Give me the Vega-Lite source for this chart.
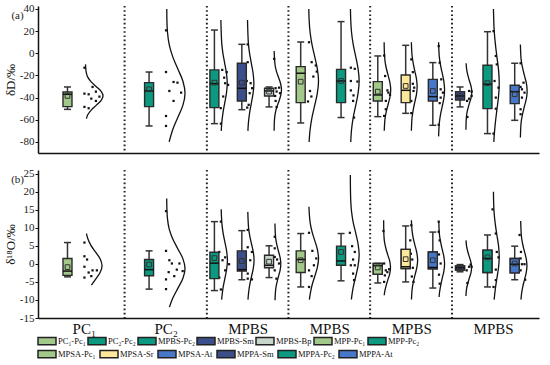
{
  "$schema": "https://vega.github.io/schema/vega-lite/v6.json",
  "padding": {"left": 4, "top": 2, "right": 4, "bottom": 1},
  "background": "white",
  "config": {
    "font": "Liberation Serif",
    "view": {"stroke": null},
    "axis": {"labelFont": "Liberation Serif", "titleFont": "Liberation Serif", "labelColor": "#222", "titleColor": "#111", "domainColor": "#111", "tickColor": "#111", "grid": false, "titleFontWeight": "normal", "labelFontSize": 11, "titleFontSize": 13, "domainWidth": 1.5, "labelOverlap": false}
  },
  "spacing": 13,
  "resolve": {"scale": {"color": "independent", "fill": "independent"}},
  "datasets": {
    "seps": [{"x": 83.3}, {"x": 167.3}, {"x": 250.6}, {"x": 334.0}, {"x": 417.6}],
    "tags": [{"p": "a", "t": "(a)", "x": -26, "y": 33.5}, {"p": "b", "t": "(b)", "x": -26, "y": 23.1}],
    "boxes": [
      {"p": "a", "g": "PC₁-Pc₁", "x": 25.0, "hi": -30.4, "q3": -35, "med": -37, "mn": -38.5, "q1": -48.1, "lo": -50.6},
      {"p": "a", "g": "PC₂-Pc₂", "x": 108.3, "hi": -16.9, "q3": -26.5, "med": -34, "mn": -32.5, "q1": -48.1, "lo": -65.6},
      {"p": "a", "g": "MPBS-Pc₂", "x": 175.0, "hi": 21, "q3": -15, "med": -27.4, "mn": -26.5, "q1": -49, "lo": -63.5},
      {"p": "a", "g": "MPBS-Sm", "x": 203.0, "hi": 8.1, "q3": -9, "med": -31.6, "mn": -26.5, "q1": -43, "lo": -50.9},
      {"p": "a", "g": "MPBS-Bp", "x": 230.8, "hi": -30.4, "q3": -31.6, "med": -34, "mn": -34.6, "q1": -38.5, "lo": -48.4},
      {"p": "a", "g": "MPP-Pc₁", "x": 263.1, "hi": 10.2, "q3": -12, "med": -18, "mn": -25.6, "q1": -44.5, "lo": -62.9},
      {"p": "a", "g": "MPP-Pc₂", "x": 304.3, "hi": 28.6, "q3": -14.5, "med": -25, "mn": -25, "q1": -44.5, "lo": -58},
      {"p": "a", "g": "MPSA-Pc₁", "x": 341.8, "hi": -2.4, "q3": -25.6, "med": -37.6, "mn": -34.6, "q1": -43, "lo": -57.2},
      {"p": "a", "g": "MPSA-Sr", "x": 370.3, "hi": 7.2, "q3": -19.6, "med": -33.4, "mn": -29.5, "q1": -44.5, "lo": -54.2},
      {"p": "a", "g": "MPSA-At", "x": 398.0, "hi": -8.4, "q3": -23.5, "med": -39.1, "mn": -34, "q1": -43, "lo": -65},
      {"p": "a", "g": "MPPA-Sm", "x": 425.8, "hi": -30.4, "q3": -34.6, "med": -38.5, "mn": -38.5, "q1": -42.1, "lo": -48.4},
      {"p": "a", "g": "MPPA-Pc₂", "x": 453.8, "hi": 19.5, "q3": -10.8, "med": -27.9, "mn": -27, "q1": -49.9, "lo": -72.5},
      {"p": "a", "g": "MPPA-At", "x": 481.6, "hi": -9, "q3": -28.9, "med": -34.6, "mn": -37, "q1": -45.4, "lo": -60.5},
      {"p": "b", "g": "PC₁-Pc₁", "x": 25.0, "hi": 5.9, "q3": 1.5, "med": -2, "mn": -0.9, "q1": -3.2, "lo": -3.6},
      {"p": "b", "g": "PC₂-Pc₂", "x": 108.3, "hi": 3.6, "q3": 1.2, "med": -1.6, "mn": -0.2, "q1": -3.3, "lo": -7.0},
      {"p": "b", "g": "MPBS-Pc₂", "x": 175.0, "hi": 11.7, "q3": 3.2, "med": 0.2, "mn": 1.6, "q1": -4.1, "lo": -7.4},
      {"p": "b", "g": "MPBS-Sm", "x": 203.0, "hi": 9.2, "q3": 3.6, "med": -1.6, "mn": 0.8, "q1": -2.0, "lo": -4.4},
      {"p": "b", "g": "MPBS-Bp", "x": 230.8, "hi": 5, "q3": 2.4, "med": -0.4, "mn": 0.6, "q1": -1.1, "lo": -3.8},
      {"p": "b", "g": "MPP-Pc₁", "x": 263.1, "hi": 8.4, "q3": 3.6, "med": 1.2, "mn": 1, "q1": -2.4, "lo": -6.4},
      {"p": "b", "g": "MPP-Pc₂", "x": 304.3, "hi": 8.4, "q3": 4.9, "med": 0.8, "mn": 3.3, "q1": -0.4, "lo": -4.7},
      {"p": "b", "g": "MPSA-Pc₁", "x": 341.8, "hi": 0.1, "q3": 0.1, "med": -0.5, "mn": -1.0, "q1": -2.9, "lo": -5.3},
      {"p": "b", "g": "MPSA-Sr", "x": 370.3, "hi": 10.5, "q3": 4.0, "med": -0.8, "mn": 1.3, "q1": -1.3, "lo": -5.0},
      {"p": "b", "g": "MPSA-At", "x": 398.0, "hi": 8.8, "q3": 3.3, "med": -1.0, "mn": 1.0, "q1": -1.4, "lo": -6.7},
      {"p": "b", "g": "MPPA-Sm", "x": 425.8, "hi": -0.2, "q3": -0.6, "med": -1.1, "mn": -1, "q1": -1.7, "lo": -2.2},
      {"p": "b", "g": "MPPA-Pc₂", "x": 453.8, "hi": 8, "q3": 3.8, "med": 1.5, "mn": 1.8, "q1": -2.4, "lo": -6.4},
      {"p": "b", "g": "MPPA-At", "x": 481.6, "hi": 4.9, "q3": 1.5, "med": -0.1, "mn": 0.1, "q1": -2.5, "lo": -4.4}
    ],
    "dots": [
      {"p":"a","x":42.3,"y":-13},{"p":"a","x":50.6,"y":-30.4},{"p":"a","x":42.3,"y":-36.4},{"p":"a","x":46.6,"y":-37},{"p":"a","x":54,"y":-34.6},{"p":"a","x":57.6,"y":-39.1},{"p":"a","x":49.3,"y":-40.9},{"p":"a","x":54,"y":-43},{"p":"a","x":42.3,"y":-48.4},{"p":"a","x":46.6,"y":-49.6},
      {"p":"a","x":125.6,"y":20.7},{"p":"a","x":125.6,"y":-16.9},{"p":"a","x":133.3,"y":-25.9},{"p":"a","x":137.3,"y":-26.5},{"p":"a","x":129,"y":-34},{"p":"a","x":141,"y":-35.5},{"p":"a","x":133.3,"y":-43},{"p":"a","x":125.6,"y":-56.6},{"p":"a","x":125.6,"y":-65.6},
      {"p":"a","x":183,"y":-15},{"p":"a","x":187.6,"y":-17},{"p":"a","x":185,"y":-22},{"p":"a","x":186,"y":-27},{"p":"a","x":189,"y":-28.5},{"p":"a","x":184,"y":-39},{"p":"a","x":181.5,"y":-49.5},{"p":"a","x":181.6,"y":-63.5},
      {"p":"a","x":209,"y":8},{"p":"a","x":209,"y":-8},{"p":"a","x":208,"y":-25},{"p":"a","x":212,"y":-27},{"p":"a","x":213.5,"y":-31.5},{"p":"a","x":211,"y":-36},{"p":"a","x":210,"y":-46.5},{"p":"a","x":208.5,"y":-49},
      {"p":"a","x":236,"y":-5},{"p":"a","x":237.5,"y":-31.5},{"p":"a","x":241,"y":-31},{"p":"a","x":238.5,"y":-34.5},{"p":"a","x":242,"y":-36},{"p":"a","x":237,"y":-38.5},{"p":"a","x":237.5,"y":-43},{"p":"a","x":238.5,"y":-48.5},
      {"p":"a","x":271.6,"y":10},{"p":"a","x":274.3,"y":-8},{"p":"a","x":278.5,"y":-11},{"p":"a","x":279.5,"y":-16.5},{"p":"a","x":276,"y":-21},{"p":"a","x":272.6,"y":-34},{"p":"a","x":274,"y":-39},{"p":"a","x":270.6,"y":-43.5},
      {"p":"a","x":314.3,"y":-13},{"p":"a","x":318.3,"y":-14},{"p":"a","x":314.3,"y":-25},{"p":"a","x":321,"y":-25.5},{"p":"a","x":314.3,"y":-33.5},{"p":"a","x":317,"y":-38},{"p":"a","x":316.6,"y":-43},{"p":"a","x":317.6,"y":-58},
      {"p":"a","x":348.3,"y":-2},{"p":"a","x":349.3,"y":-20.5},{"p":"a","x":351.6,"y":-33.5},{"p":"a","x":354.3,"y":-37.5},{"p":"a","x":352.6,"y":-35.5},{"p":"a","x":350,"y":-43},{"p":"a","x":350,"y":-50.5},{"p":"a","x":348.3,"y":-56.5},
      {"p":"a","x":376,"y":-5.5},{"p":"a","x":377.6,"y":-17},{"p":"a","x":377.6,"y":-27.5},{"p":"a","x":379,"y":-31},{"p":"a","x":378.3,"y":-34},{"p":"a","x":376,"y":-43},{"p":"a","x":376,"y":-54},
      {"p":"a","x":404,"y":6.5},{"p":"a","x":405,"y":-8.5},{"p":"a","x":406.6,"y":-23.5},{"p":"a","x":406,"y":-32.5},{"p":"a","x":408.3,"y":-35.5},{"p":"a","x":406,"y":-40},{"p":"a","x":405,"y":-45},{"p":"a","x":404,"y":-64.5},
      {"p":"a","x":435,"y":-34},{"p":"a","x":437.6,"y":-34.5},{"p":"a","x":437.6,"y":-38.5},{"p":"a","x":435,"y":-41},{"p":"a","x":433,"y":-43},{"p":"a","x":433.3,"y":-57.5},
      {"p":"a","x":460,"y":20},{"p":"a","x":462.3,"y":-2.4},{"p":"a","x":463.3,"y":-10},{"p":"a","x":461,"y":-25},{"p":"a","x":465,"y":-31},{"p":"a","x":462.3,"y":-40},{"p":"a","x":462.3,"y":-50},{"p":"a","x":460,"y":-72.5},
      {"p":"a","x":487.6,"y":-9},{"p":"a","x":490.6,"y":-26.5},{"p":"a","x":487.6,"y":-30.4},{"p":"a","x":489,"y":-32.5},{"p":"a","x":491.6,"y":-35.5},{"p":"a","x":489,"y":-40},{"p":"a","x":487.6,"y":-50.5},{"p":"a","x":487.6,"y":-55},
      {"p":"b","x":42.3,"y":5.9},{"p":"b","x":42.3,"y":2.1},{"p":"b","x":45,"y":1.2},{"p":"b","x":42.3,"y":-0.8},{"p":"b","x":50.6,"y":-1.8},{"p":"b","x":55,"y":-1.8},{"p":"b","x":46.6,"y":-2.4},{"p":"b","x":42.3,"y":-3.8},{"p":"b","x":49.3,"y":-3.4},
      {"p":"b","x":125.6,"y":14.6},{"p":"b","x":125.6,"y":3.6},{"p":"b","x":129,"y":1.0},{"p":"b","x":131.6,"y":0.1},{"p":"b","x":136.6,"y":-1.6},{"p":"b","x":139.3,"y":0.1},{"p":"b","x":142.6,"y":-2.0},{"p":"b","x":128.3,"y":-2.3},{"p":"b","x":134,"y":-3.4},{"p":"b","x":125.6,"y":-4.3},{"p":"b","x":125.6,"y":-7.0},
      {"p":"b","x":181.6,"y":11.7},{"p":"b","x":180,"y":3.3},{"p":"b","x":186,"y":1.8},{"p":"b","x":183.3,"y":1},{"p":"b","x":190,"y":-0.1},{"p":"b","x":186,"y":-1.8},{"p":"b","x":180,"y":-3.8},{"p":"b","x":181.6,"y":-7.1},
      {"p":"b","x":209,"y":9.4},{"p":"b","x":209,"y":4.6},{"p":"b","x":213.3,"y":3.3},{"p":"b","x":211.6,"y":1},{"p":"b","x":209,"y":-2.7},{"p":"b","x":209,"y":-4.1},{"p":"b","x":213.3,"y":-4.3},
      {"p":"b","x":236.6,"y":7.5},{"p":"b","x":236.6,"y":4.3},{"p":"b","x":236.6,"y":1.9},{"p":"b","x":239,"y":1.2},{"p":"b","x":241,"y":0.1},{"p":"b","x":236.6,"y":-1.8},{"p":"b","x":238.3,"y":-4.1},
      {"p":"b","x":271.6,"y":8.6},{"p":"b","x":275,"y":3.6},{"p":"b","x":279,"y":1.5},{"p":"b","x":276.6,"y":-0.4},{"p":"b","x":271.6,"y":-1.8},{"p":"b","x":274.3,"y":-3.4},{"p":"b","x":271.6,"y":-6.4},
      {"p":"b","x":313.3,"y":8.6},{"p":"b","x":315.6,"y":4.9},{"p":"b","x":318.3,"y":3.3},{"p":"b","x":316.6,"y":1.2},{"p":"b","x":314.3,"y":-0.4},{"p":"b","x":318.3,"y":-0.4},{"p":"b","x":316.6,"y":-2.7},{"p":"b","x":317.6,"y":-4.5},
      {"p":"b","x":347.6,"y":9.1},{"p":"b","x":348.3,"y":0.1},{"p":"b","x":350,"y":-1.8},{"p":"b","x":351.6,"y":-2.3},{"p":"b","x":353.3,"y":-1.5},{"p":"b","x":349,"y":-3.2},{"p":"b","x":348.3,"y":-5.0},
      {"p":"b","x":376,"y":10.7},{"p":"b","x":375,"y":6.5},{"p":"b","x":375.6,"y":2.8},{"p":"b","x":377,"y":1.2},{"p":"b","x":377.6,"y":-1.1},{"p":"b","x":376.6,"y":-3.5},{"p":"b","x":378.3,"y":-5},
      {"p":"b","x":404,"y":11.7},{"p":"b","x":404,"y":8.9},{"p":"b","x":405,"y":6.5},{"p":"b","x":404.3,"y":2.6},{"p":"b","x":406,"y":0.1},{"p":"b","x":404.3,"y":-3.0},{"p":"b","x":405,"y":-5.5},
      {"p":"b","x":435,"y":-0.8},{"p":"b","x":437.6,"y":-0.8},{"p":"b","x":432.6,"y":-1.8},{"p":"b","x":436.6,"y":-0.2},{"p":"b","x":433.3,"y":-5.3},
      {"p":"b","x":459,"y":15.1},{"p":"b","x":462.3,"y":8.4},{"p":"b","x":463.3,"y":3.3},{"p":"b","x":465,"y":1.8},{"p":"b","x":462.3,"y":-1.6},{"p":"b","x":462.3,"y":-4.5},{"p":"b","x":460,"y":-6.4},
      {"p":"b","x":486.6,"y":8},{"p":"b","x":488,"y":3.3},{"p":"b","x":487.6,"y":1.5},{"p":"b","x":489,"y":-0.1},{"p":"b","x":491.6,"y":-0.1},{"p":"b","x":487.6,"y":-1.8},{"p":"b","x":492.3,"y":-4.4}
    ],
    "curves": [
      {"p":"a","c":1,"y":-10,"x":43.4},{"p":"a","c":1,"y":-17.25,"x":44.1},{"p":"a","c":1,"y":-21.5,"x":45.7},{"p":"a","c":1,"y":-25.75,"x":49.2},{"p":"a","c":1,"y":-30,"x":54.2},{"p":"a","c":1,"y":-34.25,"x":59.2},{"p":"a","c":1,"y":-38.5,"x":61.3},{"p":"a","c":1,"y":-42.75,"x":59.2},{"p":"a","c":1,"y":-47,"x":54.2},{"p":"a","c":1,"y":-51.25,"x":49.2},{"p":"a","c":1,"y":-55.5,"x":45.7},{"p":"a","c":1,"y":-59,"x":44.3},
      {"p":"a","c":2,"y":40,"x":126.4},{"p":"a","c":2,"y":30,"x":126.5},{"p":"a","c":2,"y":19,"x":127.1},{"p":"a","c":2,"y":8,"x":128.8},{"p":"a","c":2,"y":-3,"x":132.4},{"p":"a","c":2,"y":-14,"x":137.6},{"p":"a","c":2,"y":-25,"x":142.8},{"p":"a","c":2,"y":-36,"x":145.0},{"p":"a","c":2,"y":-47,"x":142.8},{"p":"a","c":2,"y":-58,"x":137.6},{"p":"a","c":2,"y":-69,"x":132.4},{"p":"a","c":2,"y":-80,"x":128.8},
      {"p":"a","c":3,"y":30,"x":181.6},{"p":"a","c":3,"y":9,"x":182.5},{"p":"a","c":3,"y":0,"x":183.7},{"p":"a","c":3,"y":-9,"x":185.5},{"p":"a","c":3,"y":-18,"x":187.3},{"p":"a","c":3,"y":-27,"x":188.1},{"p":"a","c":3,"y":-36,"x":187.3},{"p":"a","c":3,"y":-45,"x":185.5},{"p":"a","c":3,"y":-54,"x":183.7},{"p":"a","c":3,"y":-63,"x":182.5},{"p":"a","c":3,"y":-70,"x":182.0},
      {"p":"a","c":4,"y":30,"x":208.8},{"p":"a","c":4,"y":9,"x":209.7},{"p":"a","c":4,"y":0,"x":210.9},{"p":"a","c":4,"y":-9,"x":212.7},{"p":"a","c":4,"y":-18,"x":214.5},{"p":"a","c":4,"y":-27,"x":215.3},{"p":"a","c":4,"y":-36,"x":214.5},{"p":"a","c":4,"y":-45,"x":212.7},{"p":"a","c":4,"y":-54,"x":210.9},{"p":"a","c":4,"y":-63,"x":209.7},{"p":"a","c":4,"y":-70,"x":209.2},
      {"p":"a","c":5,"y":2,"x":236.0},{"p":"a","c":5,"y":-11,"x":237.0},{"p":"a","c":5,"y":-16.5,"x":238.4},{"p":"a","c":5,"y":-22,"x":240.6},{"p":"a","c":5,"y":-27.5,"x":242.6},{"p":"a","c":5,"y":-33,"x":243.5},{"p":"a","c":5,"y":-38.5,"x":242.6},{"p":"a","c":5,"y":-44,"x":240.6},{"p":"a","c":5,"y":-49.5,"x":238.4},{"p":"a","c":5,"y":-55,"x":237.0},{"p":"a","c":5,"y":-60.5,"x":236.3},{"p":"a","c":5,"y":-70,"x":236.0},
      {"p":"a","c":6,"y":40,"x":271.4},{"p":"a","c":6,"y":30,"x":271.7},{"p":"a","c":6,"y":19,"x":272.7},{"p":"a","c":6,"y":8,"x":274.6},{"p":"a","c":6,"y":-3,"x":277.4},{"p":"a","c":6,"y":-14,"x":280.1},{"p":"a","c":6,"y":-25,"x":281.3},{"p":"a","c":6,"y":-36,"x":280.1},{"p":"a","c":6,"y":-47,"x":277.4},{"p":"a","c":6,"y":-58,"x":274.6},{"p":"a","c":6,"y":-69,"x":272.7},{"p":"a","c":6,"y":-80,"x":271.7},
      {"p":"a","c":7,"y":40,"x":313.9},{"p":"a","c":7,"y":30,"x":314.2},{"p":"a","c":7,"y":19,"x":315.0},{"p":"a","c":7,"y":8,"x":316.7},{"p":"a","c":7,"y":-3,"x":319.3},{"p":"a","c":7,"y":-14,"x":321.7},{"p":"a","c":7,"y":-25,"x":322.8},{"p":"a","c":7,"y":-36,"x":321.7},{"p":"a","c":7,"y":-47,"x":319.3},{"p":"a","c":7,"y":-58,"x":316.7},{"p":"a","c":7,"y":-69,"x":315.0},{"p":"a","c":7,"y":-80,"x":314.2},
      {"p":"a","c":8,"y":10,"x":348.3},{"p":"a","c":8,"y":-0.5,"x":348.6},{"p":"a","c":8,"y":-7,"x":349.2},{"p":"a","c":8,"y":-13.5,"x":350.5},{"p":"a","c":8,"y":-20,"x":352.4},{"p":"a","c":8,"y":-26.5,"x":354.2},{"p":"a","c":8,"y":-33,"x":355.0},{"p":"a","c":8,"y":-39.5,"x":354.2},{"p":"a","c":8,"y":-46,"x":352.4},{"p":"a","c":8,"y":-52.5,"x":350.5},{"p":"a","c":8,"y":-59,"x":349.2},{"p":"a","c":8,"y":-70,"x":348.4},
      {"p":"a","c":9,"y":10,"x":376.1},{"p":"a","c":9,"y":-2,"x":376.8},{"p":"a","c":9,"y":-9,"x":378.0},{"p":"a","c":9,"y":-16,"x":379.6},{"p":"a","c":9,"y":-23,"x":381.3},{"p":"a","c":9,"y":-30,"x":382.0},{"p":"a","c":9,"y":-37,"x":381.3},{"p":"a","c":9,"y":-44,"x":379.6},{"p":"a","c":9,"y":-51,"x":378.0},{"p":"a","c":9,"y":-58,"x":376.8},{"p":"a","c":9,"y":-70,"x":376.1},
      {"p":"a","c":10,"y":10,"x":403.9},{"p":"a","c":10,"y":-3,"x":404.6},{"p":"a","c":10,"y":-10.5,"x":405.8},{"p":"a","c":10,"y":-18,"x":407.6},{"p":"a","c":10,"y":-25.5,"x":409.3},{"p":"a","c":10,"y":-33,"x":410.0},{"p":"a","c":10,"y":-40.5,"x":409.3},{"p":"a","c":10,"y":-48,"x":407.6},{"p":"a","c":10,"y":-55.5,"x":405.8},{"p":"a","c":10,"y":-63,"x":404.6},{"p":"a","c":10,"y":-75,"x":403.9},
      {"p":"a","c":11,"y":-9,"x":432.0},{"p":"a","c":11,"y":-15,"x":432.6},{"p":"a","c":11,"y":-20,"x":433.8},{"p":"a","c":11,"y":-25,"x":435.4},{"p":"a","c":11,"y":-30,"x":437.1},{"p":"a","c":11,"y":-35,"x":437.8},{"p":"a","c":11,"y":-40,"x":437.1},{"p":"a","c":11,"y":-45,"x":435.4},{"p":"a","c":11,"y":-50,"x":433.8},{"p":"a","c":11,"y":-55,"x":432.6},{"p":"a","c":11,"y":-60,"x":432.1},{"p":"a","c":11,"y":-69,"x":431.8},
      {"p":"a","c":12,"y":40,"x":459.9},{"p":"a","c":12,"y":33,"x":460.1},{"p":"a","c":12,"y":21,"x":460.6},{"p":"a","c":12,"y":9,"x":461.8},{"p":"a","c":12,"y":-3,"x":463.4},{"p":"a","c":12,"y":-15,"x":465.1},{"p":"a","c":12,"y":-27,"x":465.8},{"p":"a","c":12,"y":-39,"x":465.1},{"p":"a","c":12,"y":-51,"x":463.4},{"p":"a","c":12,"y":-63,"x":461.8},{"p":"a","c":12,"y":-75,"x":460.6},{"p":"a","c":12,"y":-80,"x":460.3},
      {"p":"a","c":13,"y":8,"x":487.4},{"p":"a","c":13,"y":-6,"x":488.2},{"p":"a","c":13,"y":-13,"x":489.6},{"p":"a","c":13,"y":-20,"x":491.5},{"p":"a","c":13,"y":-27,"x":493.5},{"p":"a","c":13,"y":-34,"x":494.3},{"p":"a","c":13,"y":-41,"x":493.5},{"p":"a","c":13,"y":-48,"x":491.5},{"p":"a","c":13,"y":-55,"x":489.6},{"p":"a","c":13,"y":-62,"x":488.2},{"p":"a","c":13,"y":-76,"x":487.4},
      {"p":"b","c":1,"y":8.4,"x":44.4},{"p":"b","c":1,"y":7.1,"x":45.6},{"p":"b","c":1,"y":5.2,"x":48.8},{"p":"b","c":1,"y":3.3,"x":53.6},{"p":"b","c":1,"y":1.4,"x":58.3},{"p":"b","c":1,"y":-0.5,"x":60.3},{"p":"b","c":1,"y":-2.4,"x":58.3},{"p":"b","c":1,"y":-4.3,"x":53.6},{"p":"b","c":1,"y":-5.9,"x":49.4},
      {"p":"b","c":2,"y":18.1,"x":126.3},{"p":"b","c":2,"y":15.2,"x":126.5},{"p":"b","c":2,"y":12.45,"x":127.1},{"p":"b","c":2,"y":9.7,"x":128.8},{"p":"b","c":2,"y":6.95,"x":132.4},{"p":"b","c":2,"y":4.2,"x":137.6},{"p":"b","c":2,"y":1.45,"x":142.8},{"p":"b","c":2,"y":-1.3,"x":145.0},{"p":"b","c":2,"y":-4.05,"x":142.8},{"p":"b","c":2,"y":-6.8,"x":137.6},{"p":"b","c":2,"y":-9.55,"x":132.4},{"p":"b","c":2,"y":-12,"x":129.1},
      {"p":"b","c":3,"y":15.1,"x":181.9},{"p":"b","c":3,"y":11,"x":182.7},{"p":"b","c":3,"y":8.5,"x":183.9},{"p":"b","c":3,"y":6,"x":185.7},{"p":"b","c":3,"y":3.5,"x":187.5},{"p":"b","c":3,"y":1,"x":188.3},{"p":"b","c":3,"y":-1.5,"x":187.5},{"p":"b","c":3,"y":-4,"x":185.7},{"p":"b","c":3,"y":-6.5,"x":183.9},{"p":"b","c":3,"y":-9,"x":182.7},{"p":"b","c":3,"y":-9.9,"x":182.4},
      {"p":"b","c":4,"y":14.4,"x":209.1},{"p":"b","c":4,"y":10,"x":209.9},{"p":"b","c":4,"y":7.75,"x":211.1},{"p":"b","c":4,"y":5.5,"x":212.9},{"p":"b","c":4,"y":3.25,"x":214.7},{"p":"b","c":4,"y":1,"x":215.5},{"p":"b","c":4,"y":-1.25,"x":214.7},{"p":"b","c":4,"y":-3.5,"x":212.9},{"p":"b","c":4,"y":-5.75,"x":211.1},{"p":"b","c":4,"y":-8,"x":209.9},{"p":"b","c":4,"y":-9.9,"x":209.3},
      {"p":"b","c":5,"y":11.2,"x":236.8},{"p":"b","c":5,"y":7,"x":237.6},{"p":"b","c":5,"y":5.25,"x":238.8},{"p":"b","c":5,"y":3.5,"x":240.4},{"p":"b","c":5,"y":1.75,"x":242.1},{"p":"b","c":5,"y":0,"x":242.8},{"p":"b","c":5,"y":-1.75,"x":242.1},{"p":"b","c":5,"y":-3.5,"x":240.4},{"p":"b","c":5,"y":-5.25,"x":238.8},{"p":"b","c":5,"y":-7,"x":237.6},{"p":"b","c":5,"y":-10.1,"x":236.9},
      {"p":"b","c":6,"y":15.8,"x":271.5},{"p":"b","c":6,"y":11.5,"x":272.7},{"p":"b","c":6,"y":9,"x":274.6},{"p":"b","c":6,"y":6.5,"x":277.4},{"p":"b","c":6,"y":4,"x":280.1},{"p":"b","c":6,"y":1.5,"x":281.3},{"p":"b","c":6,"y":-1,"x":280.1},{"p":"b","c":6,"y":-3.5,"x":277.4},{"p":"b","c":6,"y":-6,"x":274.6},{"p":"b","c":6,"y":-8.5,"x":272.7},{"p":"b","c":6,"y":-9.9,"x":272.0},
      {"p":"b","c":7,"y":24.6,"x":313.8},{"p":"b","c":7,"y":20.5,"x":313.9},{"p":"b","c":7,"y":17.5,"x":314.2},{"p":"b","c":7,"y":14.5,"x":315.0},{"p":"b","c":7,"y":11.5,"x":316.7},{"p":"b","c":7,"y":8.5,"x":319.3},{"p":"b","c":7,"y":5.5,"x":321.7},{"p":"b","c":7,"y":2.5,"x":322.8},{"p":"b","c":7,"y":-0.5,"x":321.7},{"p":"b","c":7,"y":-3.5,"x":319.3},{"p":"b","c":7,"y":-6.5,"x":316.7},{"p":"b","c":7,"y":-9.5,"x":315.0},{"p":"b","c":7,"y":-9.9,"x":314.9},
      {"p":"b","c":8,"y":12.1,"x":347.8},{"p":"b","c":8,"y":7.75,"x":348.1},{"p":"b","c":8,"y":6,"x":348.7},{"p":"b","c":8,"y":4.25,"x":350.1},{"p":"b","c":8,"y":2.5,"x":352.0},{"p":"b","c":8,"y":0.75,"x":354.0},{"p":"b","c":8,"y":-1,"x":354.8},{"p":"b","c":8,"y":-2.75,"x":354.0},{"p":"b","c":8,"y":-4.5,"x":352.0},{"p":"b","c":8,"y":-6.25,"x":350.1},{"p":"b","c":8,"y":-8,"x":348.7},{"p":"b","c":8,"y":-8.7,"x":348.4},
      {"p":"b","c":9,"y":12.1,"x":376.1},{"p":"b","c":9,"y":9,"x":376.9},{"p":"b","c":9,"y":7,"x":378.1},{"p":"b","c":9,"y":5,"x":379.9},{"p":"b","c":9,"y":3,"x":381.7},{"p":"b","c":9,"y":1,"x":382.5},{"p":"b","c":9,"y":-1,"x":381.7},{"p":"b","c":9,"y":-3,"x":379.9},{"p":"b","c":9,"y":-5,"x":378.1},{"p":"b","c":9,"y":-7,"x":376.9},{"p":"b","c":9,"y":-9.9,"x":376.2},
      {"p":"b","c":10,"y":11.7,"x":404.1},{"p":"b","c":10,"y":8,"x":404.8},{"p":"b","c":10,"y":6,"x":406.0},{"p":"b","c":10,"y":4,"x":407.6},{"p":"b","c":10,"y":2,"x":409.3},{"p":"b","c":10,"y":0,"x":410.0},{"p":"b","c":10,"y":-2,"x":409.3},{"p":"b","c":10,"y":-4,"x":407.6},{"p":"b","c":10,"y":-6,"x":406.0},{"p":"b","c":10,"y":-8,"x":404.8},{"p":"b","c":10,"y":-9.2,"x":404.4},
      {"p":"b","c":11,"y":6.5,"x":431.9},{"p":"b","c":11,"y":5,"x":432.4},{"p":"b","c":11,"y":3.5,"x":433.6},{"p":"b","c":11,"y":2,"x":435.2},{"p":"b","c":11,"y":0.5,"x":436.9},{"p":"b","c":11,"y":-1,"x":437.6},{"p":"b","c":11,"y":-2.5,"x":436.9},{"p":"b","c":11,"y":-4,"x":435.2},{"p":"b","c":11,"y":-5.5,"x":433.6},{"p":"b","c":11,"y":-7,"x":432.4},{"p":"b","c":11,"y":-8.9,"x":431.8},
      {"p":"b","c":12,"y":20,"x":459.9},{"p":"b","c":12,"y":17,"x":460.1},{"p":"b","c":12,"y":14,"x":460.6},{"p":"b","c":12,"y":11,"x":461.8},{"p":"b","c":12,"y":8,"x":463.4},{"p":"b","c":12,"y":5,"x":465.1},{"p":"b","c":12,"y":2,"x":465.8},{"p":"b","c":12,"y":-1,"x":465.1},{"p":"b","c":12,"y":-4,"x":463.4},{"p":"b","c":12,"y":-7,"x":461.8},{"p":"b","c":12,"y":-9.9,"x":460.6},
      {"p":"b","c":13,"y":11.9,"x":487.7},{"p":"b","c":13,"y":7.5,"x":488.5},{"p":"b","c":13,"y":5.5,"x":489.7},{"p":"b","c":13,"y":3.5,"x":491.5},{"p":"b","c":13,"y":1.5,"x":493.3},{"p":"b","c":13,"y":-0.5,"x":494.1},{"p":"b","c":13,"y":-2.5,"x":493.3},{"p":"b","c":13,"y":-4.5,"x":491.5},{"p":"b","c":13,"y":-6.5,"x":489.7},{"p":"b","c":13,"y":-8.5,"x":488.5},{"p":"b","c":13,"y":-9.9,"x":488.0}
    ]
  },
  "vconcat": [
    {
      "width": 501,
      "height": 147,
      "layer": [
        {
          "data": {"name": "seps"},
          "mark": {"type": "rule", "color": "#222", "strokeWidth": 2, "strokeDash": [1.6, 2.6]},
          "encoding": {
            "x": {"field": "x", "type": "quantitative", "scale": {"domain": [0, 501.3], "nice": false, "zero": false},
                  "axis": {"domain": true, "ticks": false, "labels": false, "title": null, "grid": false}}
          }
        },
        {
          "data": {"name": "curves"},
          "transform": [{"filter": "datum.p == 'a'"}],
          "mark": {"type": "line", "color": "#111", "strokeWidth": 1.3, "interpolate": "catmull-rom"},
          "encoding": {
            "x": {"field": "x", "type": "quantitative"},
            "y": {"field": "y", "type": "quantitative", "scale": {"domain": [-90, 42.7], "nice": false, "zero": false},
                  "axis": {"tickCount": 7, "format": "d", "labelExpr": "replace(datum.label, '−', '-')", "title": "δD/‰", "tickSize": 3, "labelPadding": 1, "titlePadding": 2, "labelFontSize": 11, "labelOverlap": false}},
            "detail": {"field": "c", "type": "nominal"},
            "order": {"field": "y", "type": "quantitative"}
          }
        },
        {
          "data": {"name": "dots"},
          "transform": [{"filter": "datum.p == 'a'"}],
          "mark": {"type": "point", "shape": "square", "size": 5, "filled": true, "color": "#111", "opacity": 1},
          "encoding": {"x": {"field": "x", "type": "quantitative"}, "y": {"field": "y", "type": "quantitative"}}
        },
        {
          "data": {"name": "boxes"},
          "transform": [{"filter": "datum.p == 'a'"}],
          "layer": [
            {"mark": {"type": "rule", "color": "#333", "strokeWidth": 1.5},
             "encoding": {"x": {"field": "x", "type": "quantitative"}, "y": {"field": "lo", "type": "quantitative"}, "y2": {"field": "hi"}}},
            {"mark": {"type": "tick", "orient": "horizontal", "size": 7, "thickness": 1.5, "color": "#333", "opacity": 1},
             "encoding": {"x": {"field": "x", "type": "quantitative"}, "y": {"field": "lo", "type": "quantitative"}}},
            {"mark": {"type": "tick", "orient": "horizontal", "size": 7, "thickness": 1.5, "color": "#333", "opacity": 1},
             "encoding": {"x": {"field": "x", "type": "quantitative"}, "y": {"field": "hi", "type": "quantitative"}}},
            {"mark": {"type": "bar", "size": 9, "stroke": "#2a2a2a", "strokeWidth": 1.4},
             "encoding": {"x": {"field": "x", "type": "quantitative"}, "y": {"field": "q1", "type": "quantitative"}, "y2": {"field": "q3"},
               "color": {"field": "g", "type": "nominal", "legend": null,
                 "scale": {"domain": ["PC₁-Pc₁", "PC₂-Pc₂", "MPBS-Pc₂", "MPBS-Sm", "MPBS-Bp", "MPP-Pc₁", "MPP-Pc₂", "MPSA-Pc₁", "MPSA-Sr", "MPSA-At", "MPPA-Sm", "MPPA-Pc₂", "MPPA-At"],
                           "range": ["#a3c98a", "#0b9a80", "#0b9a80", "#3c4f8a", "#c7d5cb", "#a3c98a", "#0b9a80", "#a3c98a", "#fde79a", "#4777c9", "#3c4f8a", "#0b9a80", "#4777c9"]}}}},
            {"mark": {"type": "tick", "orient": "horizontal", "size": 9, "thickness": 1.5, "color": "#111", "opacity": 1},
             "encoding": {"x": {"field": "x", "type": "quantitative"}, "y": {"field": "med", "type": "quantitative"}}},
            {"mark": {"type": "point", "shape": "square", "size": 22, "filled": false, "stroke": "#333", "strokeWidth": 1, "opacity": 1},
             "encoding": {"x": {"field": "x", "type": "quantitative"}, "y": {"field": "mn", "type": "quantitative"}}}
          ]
        },
        {
          "data": {"name": "tags"},
          "transform": [{"filter": "datum.p == 'a'"}],
          "mark": {"type": "text", "font": "Liberation Serif", "fontSize": 11, "color": "#222", "align": "center", "baseline": "middle"},
          "encoding": {"x": {"field": "x", "type": "quantitative"}, "y": {"field": "y", "type": "quantitative"}, "text": {"field": "t"}}
        }
      ]
    },
    {
      "width": 501,
      "height": 148,
      "layer": [
        {
          "data": {"name": "seps"},
          "mark": {"type": "rule", "color": "#222", "strokeWidth": 2, "strokeDash": [1.6, 2.6]},
          "encoding": {
            "x": {"field": "x", "type": "quantitative", "scale": {"domain": [0, 501.3], "nice": false, "zero": false},
                  "axis": {"domain": true, "ticks": false, "title": null, "grid": false, "values": [41.7, 125.3, 209, 292.3, 376, 459.5],
                           "labelExpr": "datum.value < 80 ? 'PC₁' : datum.value < 160 ? 'PC₂' : 'MPBS'", "labelFontSize": 15, "labelColor": "#111", "labelPadding": 3}}
          }
        },
        {
          "data": {"name": "curves"},
          "transform": [{"filter": "datum.p == 'b'"}],
          "mark": {"type": "line", "color": "#111", "strokeWidth": 1.3, "interpolate": "catmull-rom"},
          "encoding": {
            "x": {"field": "x", "type": "quantitative"},
            "y": {"field": "y", "type": "quantitative", "scale": {"domain": [-15, 26], "nice": false, "zero": false},
                  "axis": {"tickCount": 9, "format": "d", "labelExpr": "replace(datum.label, '−', '-')", "title": "δ¹⁸O/‰", "tickSize": 3, "labelPadding": 1, "titlePadding": 2, "labelFontSize": 11, "labelOverlap": false}},
            "detail": {"field": "c", "type": "nominal"},
            "order": {"field": "y", "type": "quantitative"}
          }
        },
        {
          "data": {"name": "dots"},
          "transform": [{"filter": "datum.p == 'b'"}],
          "mark": {"type": "point", "shape": "square", "size": 5, "filled": true, "color": "#111", "opacity": 1},
          "encoding": {"x": {"field": "x", "type": "quantitative"}, "y": {"field": "y", "type": "quantitative"}}
        },
        {
          "data": {"name": "boxes"},
          "transform": [{"filter": "datum.p == 'b'"}],
          "layer": [
            {"mark": {"type": "rule", "color": "#333", "strokeWidth": 1.5},
             "encoding": {"x": {"field": "x", "type": "quantitative"}, "y": {"field": "lo", "type": "quantitative"}, "y2": {"field": "hi"}}},
            {"mark": {"type": "tick", "orient": "horizontal", "size": 7, "thickness": 1.5, "color": "#333", "opacity": 1},
             "encoding": {"x": {"field": "x", "type": "quantitative"}, "y": {"field": "lo", "type": "quantitative"}}},
            {"mark": {"type": "tick", "orient": "horizontal", "size": 7, "thickness": 1.5, "color": "#333", "opacity": 1},
             "encoding": {"x": {"field": "x", "type": "quantitative"}, "y": {"field": "hi", "type": "quantitative"}}},
            {"mark": {"type": "bar", "size": 9, "stroke": "#2a2a2a", "strokeWidth": 1.4},
             "encoding": {"x": {"field": "x", "type": "quantitative"}, "y": {"field": "q1", "type": "quantitative"}, "y2": {"field": "q3"},
               "color": {"field": "g", "type": "nominal",
                 "scale": {"domain": ["PC₁-Pc₁", "PC₂-Pc₂", "MPBS-Pc₂", "MPBS-Sm", "MPBS-Bp", "MPP-Pc₁", "MPP-Pc₂", "MPSA-Pc₁", "MPSA-Sr", "MPSA-At", "MPPA-Sm", "MPPA-Pc₂", "MPPA-At"],
                           "range": ["#a3c98a", "#0b9a80", "#0b9a80", "#3c4f8a", "#c7d5cb", "#a3c98a", "#0b9a80", "#a3c98a", "#fde79a", "#4777c9", "#3c4f8a", "#0b9a80", "#4777c9"]},
                 "legend": {"orient": "none", "legendX": -1, "legendY": 161, "direction": "horizontal", "columns": 7, "gridAlign": "each", "title": null,
                   "values": ["PC₁-Pc₁", "PC₂-Pc₂", "MPBS-Pc₂", "MPBS-Sm", "MPBS-Bp", "MPP-Pc₁", "MPP-Pc₂"],
                   "symbolType": "M-1,-0.4H1V0.4H-1Z", "symbolSize": 324, "symbolStrokeWidth": 1.5, "symbolStrokeColor": "#222",
                   "labelFont": "Liberation Serif", "labelFontSize": 8.5, "labelColor": "#111", "labelOffset": 1, "columnPadding": -1,
                   "encode": {"symbols": {"update": {"stroke": {"value": "#222"}, "strokeWidth": {"value": 1.5}}}}}}}},
            {"transform": [{"filter": {"field": "g", "oneOf": ["MPSA-Pc₁", "MPSA-Sr", "MPSA-At", "MPPA-Sm", "MPPA-Pc₂", "MPPA-At"]}}],
             "mark": {"type": "bar", "size": 9, "stroke": "#2a2a2a", "strokeWidth": 1.4},
             "encoding": {"x": {"field": "x", "type": "quantitative"}, "y": {"field": "q1", "type": "quantitative"}, "y2": {"field": "q3"},
               "fill": {"field": "g", "type": "nominal",
                 "scale": {"domain": ["MPSA-Pc₁", "MPSA-Sr", "MPSA-At", "MPPA-Sm", "MPPA-Pc₂", "MPPA-At"],
                           "range": ["#a3c98a", "#fde79a", "#4777c9", "#3c4f8a", "#0b9a80", "#4777c9"]},
                 "legend": {"orient": "none", "legendX": -1, "legendY": 174, "direction": "horizontal", "columns": 6, "gridAlign": "each", "title": null,
                   "symbolType": "M-1,-0.4H1V0.4H-1Z", "symbolSize": 324, "symbolStrokeWidth": 1.5, "symbolStrokeColor": "#222",
                   "labelFont": "Liberation Serif", "labelFontSize": 8.5, "labelColor": "#111", "labelOffset": 1, "columnPadding": 1,
                   "encode": {"symbols": {"update": {"stroke": {"value": "#222"}, "strokeWidth": {"value": 1.5}}}}}}}},
            {"mark": {"type": "tick", "orient": "horizontal", "size": 9, "thickness": 1.5, "color": "#111", "opacity": 1},
             "encoding": {"x": {"field": "x", "type": "quantitative"}, "y": {"field": "med", "type": "quantitative"}}},
            {"mark": {"type": "point", "shape": "square", "size": 22, "filled": false, "stroke": "#333", "strokeWidth": 1, "opacity": 1},
             "encoding": {"x": {"field": "x", "type": "quantitative"}, "y": {"field": "mn", "type": "quantitative"}}}
          ]
        },
        {
          "data": {"name": "tags"},
          "transform": [{"filter": "datum.p == 'b'"}],
          "mark": {"type": "text", "font": "Liberation Serif", "fontSize": 11, "color": "#222", "align": "center", "baseline": "middle"},
          "encoding": {"x": {"field": "x", "type": "quantitative"}, "y": {"field": "y", "type": "quantitative"}, "text": {"field": "t"}}
        }
      ]
    }
  ]
}
